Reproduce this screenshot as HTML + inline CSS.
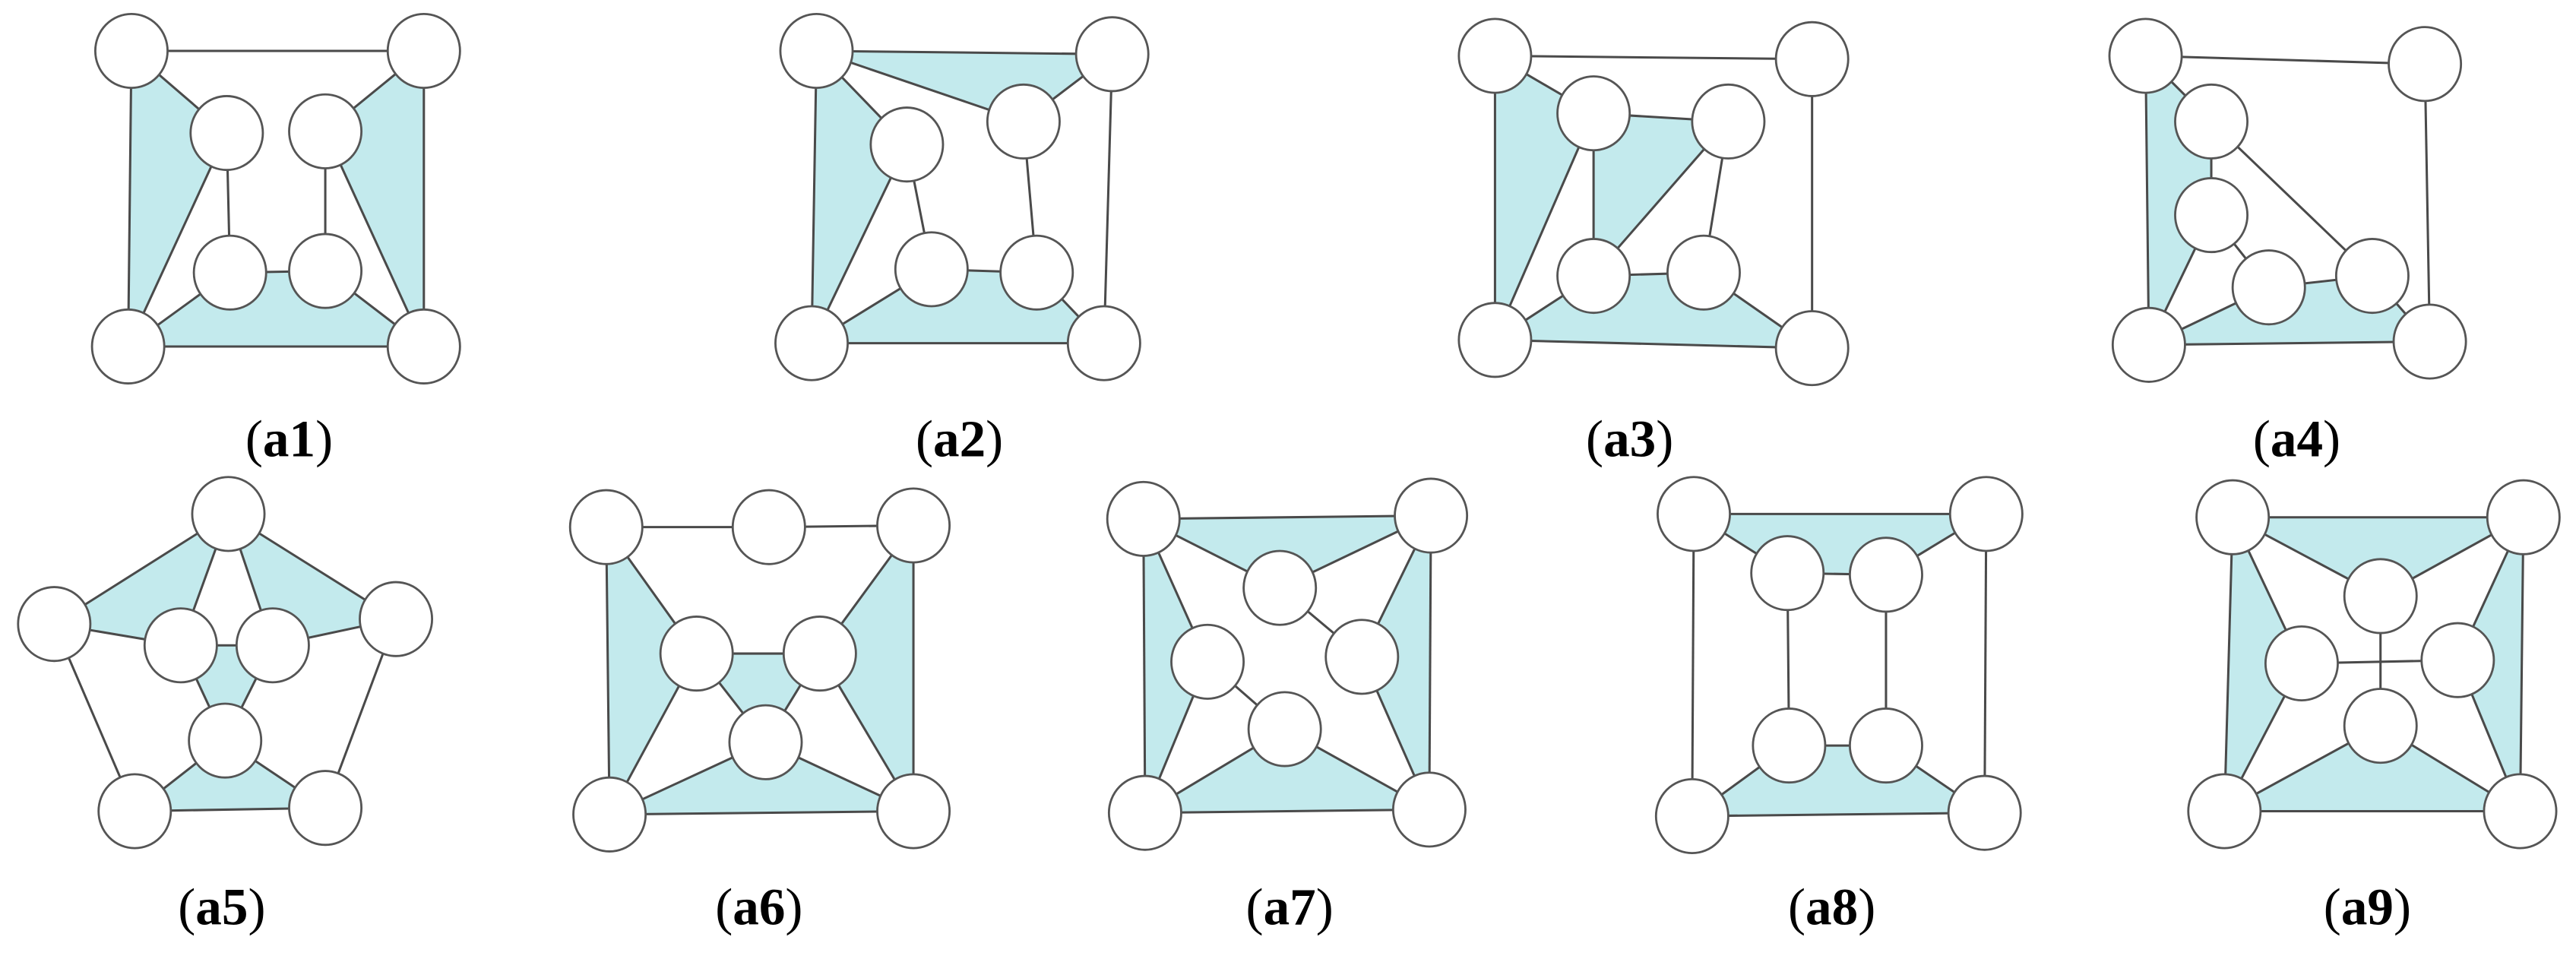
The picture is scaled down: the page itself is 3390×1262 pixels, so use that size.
<!DOCTYPE html>
<html><head><meta charset="utf-8"><style>
html,body{margin:0;padding:0;background:#fff}
svg{display:block}
.f{fill:#c3eaed;stroke:none}
.e{stroke:#4a4a4a;stroke-width:1.4;fill:none}
.n{fill:#fff;stroke:#555;stroke-width:1.3}
text{font-family:"Liberation Serif",serif;font-size:32px;text-anchor:middle;fill:#000}
</style></head><body>
<svg id="s" width="3390" height="1262" viewBox="0 0 1568 584" preserveAspectRatio="none" xmlns="http://www.w3.org/2000/svg"></svg>
<script>
const G=[
{n:{TL:[80,31],TR:[258,31],A:[138,81],B:[198,80],C:[140,166],D:[198,165],BL:[78,211],BR:[258,211]},
 e:"TL-TR TL-BL TR-BR BL-BR A-TL A-BL B-TR B-BR A-C B-D C-D C-BL D-BR",
 f:["TL A BL","TR B BR","BL C D BR"],l:[176,278,"a1"]},
{n:{TL:[497,31],TR:[677,33],A:[552,88],B:[623,74],C:[567,164],D:[631,166],BL:[494,209],BR:[672,209]},
 e:"TL-TR TL-B B-TR TL-BL TL-A A-BL A-C B-D TR-BR C-D C-BL D-BR BL-BR",
 f:["TL TR B","TL A BL","BL C D BR"],l:[584,278,"a2"]},
{n:{TL:[910,34],TR:[1103,36],A:[970,69],B:[1052,74],C:[970,168],D:[1037,166],BL:[910,207],BR:[1103,212]},
 e:"TL-TR TL-BL TL-A A-B A-C A-BL B-C B-D C-D C-BL D-BR BL-BR TR-BR",
 f:["TL A BL","A B C","BL C D BR"],l:[992,278,"a3"]},
{n:{TL:[1306,34],TR:[1476,39],A:[1346,74],B:[1346,131],C:[1381,175],D:[1444,168],BL:[1308,210],BR:[1479,208]},
 e:"TL-TR TL-BL TL-A A-B A-D B-C B-BL C-D C-BL D-BR BL-BR TR-BR",
 f:["TL A B BL","BL C D BR"],l:[1398,278,"a4"]},
{n:{T:[139,313],L:[33,380],R:[241,377],IL:[110,393],IR:[166,393],M:[137,451],BL:[82,494],BR:[198,492]},
 e:"T-L T-R T-IL T-IR L-IL R-IR IL-IR IL-M IR-M L-BL R-BR M-BL M-BR BL-BR",
 f:["T L IL","T R IR","IL IR M","M BL BR"],l:[135,563,"a5"]},
{n:{TL:[369,321],TM:[468,321],TR:[556,320],ML:[424,398],MR:[499,398],M:[466,452],BL:[371,496],BR:[556,494]},
 e:"TL-TM TM-TR TL-BL TR-BR TL-ML TR-MR ML-MR ML-BL MR-BR ML-M MR-M M-BL M-BR BL-BR",
 f:["TL ML BL","TR MR BR","ML MR M","BL M BR"],l:[462,563,"a6"]},
{n:{TL:[696,316],TR:[871,314],A:[779,358],L:[735,403],R:[829,400],B:[782,444],BL:[697,495],BR:[870,493]},
 e:"TL-TR TL-BL TR-BR BL-BR TL-A TR-A TL-L BL-L TR-R BR-R A-R L-B B-BL B-BR",
 f:["TL TR A","TL L BL","TR R BR","BL B BR"],l:[785,563,"a7"]},
{n:{TL:[1031,313],TR:[1209,313],A:[1088,349],B:[1148,350],C:[1089,454],D:[1148,454],BL:[1030,497],BR:[1208,495]},
 e:"TL-TR TL-BL TR-BR BL-BR TL-A TR-B A-B A-C B-D C-D C-BL D-BR",
 f:["TL TR B A","BL C D BR"],l:[1115,563,"a8"]},
{n:{TL:[1359,315],TR:[1536,315],T:[1449,363],L:[1401,404],R:[1496,402],B:[1449,442],BL:[1354,494],BR:[1534,494]},
 e:"TL-TR TL-BL TR-BR BL-BR TL-T TR-T TL-L BL-L TR-R BR-R L-R T-B B-BL B-BR",
 f:["TL TR T","TL L BL","TR R BR","BL B BR"],l:[1441,563,"a9"]}
];
let h="";
for(const g of G){
 for(const f of g.f) h+=`<polygon class="f" points="${f.split(" ").map(k=>g.n[k].join(",")).join(" ")}"/>`;
 for(const e of g.e.split(" ")){const[a,b]=e.split("-");const p=g.n[a],q=g.n[b];h+=`<line class="e" x1="${p[0]}" y1="${p[1]}" x2="${q[0]}" y2="${q[1]}"/>`;}
 for(const k in g.n){const p=g.n[k];h+=`<ellipse class="n" cx="${p[0]}" cy="${p[1]}" rx="22" ry="22.5"/>`;}
 h+=`<text x="${g.l[0]}" y="${g.l[1]}">(<tspan font-weight="bold">${g.l[2]}</tspan>)</text>`;
}
document.getElementById("s").innerHTML=h;
</script>
</body></html>
